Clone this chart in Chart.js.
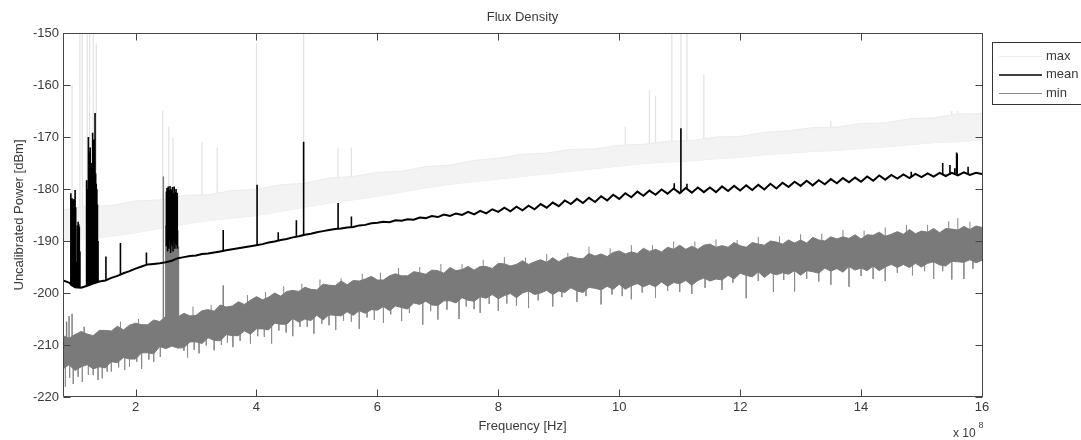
<!DOCTYPE html>
<html>
<head>
<meta charset="utf-8">
<title>Flux Density</title>
<script src="https://cdn.jsdelivr.net/npm/chart.js@4.4.1/dist/chart.umd.min.js"></script>
<style>
  html, body { margin: 0; padding: 0; background: #fff; }
  #wrap { width: 1081px; height: 440px; position: relative; }
</style>
</head>
<body>
<div id="wrap"><canvas id="fluxChart"></canvas></div>
<script>
// axis ticks (frequency in units of 1e8 Hz)
var xTicks = [2, 4, 6, 8, 10, 12, 14, 16];
var yTicks = [-220, -210, -200, -190, -180, -170, -160, -150];
var seriesNames = ['max', 'mean', 'min'];

// shared frequency grid for mean / min traces
var freq = [
    0.8, 0.9, 1.0, 1.1, 1.2, 1.3, 1.4, 1.5, 1.6, 1.7,
    1.8, 1.9, 2.0, 2.1, 2.2, 2.3, 2.4, 2.5, 2.6, 2.7,
    2.8, 2.9, 3.0, 3.1, 3.2, 3.3, 3.4, 3.5, 3.6, 3.7,
    3.8, 3.9, 4.0, 4.1, 4.2, 4.3, 4.4, 4.5, 4.6, 4.7,
    4.8, 4.9, 5.0, 5.1, 5.2, 5.3, 5.4, 5.5, 5.6, 5.7,
    5.8, 5.9, 6.0, 6.1, 6.2, 6.3, 6.4, 6.5, 6.6, 6.7,
    6.8, 6.9, 7.0, 7.1, 7.2, 7.3, 7.4, 7.5, 7.6, 7.7,
    7.8, 7.9, 8.0, 8.1, 8.2, 8.3, 8.4, 8.5, 8.6, 8.7,
    8.8, 8.9, 9.0, 9.1, 9.2, 9.3, 9.4, 9.5, 9.6, 9.7,
    9.8, 9.9, 10.0, 10.1, 10.2, 10.3, 10.4, 10.5, 10.6, 10.7,
    10.8, 10.9, 11.0, 11.1, 11.2, 11.3, 11.4, 11.5, 11.6, 11.7,
    11.8, 11.9, 12.0, 12.1, 12.2, 12.3, 12.4, 12.5, 12.6, 12.7,
    12.8, 12.9, 13.0, 13.1, 13.2, 13.3, 13.4, 13.5, 13.6, 13.7,
    13.8, 13.9, 14.0, 14.1, 14.2, 14.3, 14.4, 14.5, 14.6, 14.7,
    14.8, 14.9, 15.0, 15.1, 15.2, 15.3, 15.4, 15.5, 15.6, 15.7,
    15.8, 15.9, 16.0
];

var meanPower = [
    -197.6, -198.0, -198.9, -199.0, -198.6, -198.2, -197.8, -197.6, -197.1, -196.7,
    -196.2, -195.8, -195.3, -194.9, -194.5, -194.4, -194.3, -194.1, -193.8, -193.3,
    -193.1, -192.9, -192.8, -192.5, -192.4, -192.2, -192.0, -191.8, -191.6, -191.4,
    -191.2, -191.0, -190.8, -190.6, -190.3, -190.1, -189.8, -189.6, -189.3, -189.1,
    -188.8, -188.6, -188.3, -188.1, -187.9, -187.7, -187.6, -187.4, -187.3, -187.0,
    -186.9, -186.6, -186.5, -186.3, -186.4, -186.0, -186.1, -185.8, -185.9, -185.5,
    -185.6, -185.2, -185.4, -184.9, -185.2, -184.7, -185.0, -184.4, -184.9, -184.2,
    -184.7, -183.9, -184.4, -183.6, -184.3, -183.4, -184.1, -183.2, -183.9, -182.9,
    -183.6, -182.6, -183.3, -182.2, -182.9, -181.9, -182.7, -181.7, -182.5, -181.4,
    -182.2, -181.1, -181.9, -180.8, -181.6, -180.5, -181.3, -180.3, -181.1, -180.1,
    -180.9, -179.9, -180.8, -179.8, -180.7, -179.7, -180.6, -179.7, -180.6, -179.5,
    -180.4, -179.4, -180.3, -179.3, -180.2, -179.2, -180.1, -179.0, -179.9, -178.8,
    -179.6, -178.6, -179.4, -178.4, -179.3, -178.3, -179.1, -178.1, -178.9, -177.9,
    -178.7, -177.8, -178.6, -177.6, -178.4, -177.4, -178.2, -177.3, -178.0, -177.2,
    -177.9, -177.1, -177.7, -177.0, -177.6, -176.9, -177.5, -176.9, -177.4, -176.8,
    -177.3, -176.9, -177.1
];

// min trace: upper and lower edge of the noisy band
var minHigh = [
    -208.2, -208.7, -208.0, -207.4, -207.9, -208.2, -207.2, -207.2, -207.3, -206.4,
    -207.1, -206.2, -205.8, -206.1, -206.1, -205.2, -205.5, -204.5, -205.1, -204.6,
    -203.9, -204.4, -204.3, -203.4, -203.2, -203.5, -202.3, -202.7, -202.5, -201.7,
    -202.2, -201.4, -200.7, -201.3, -200.8, -200.0, -200.6, -199.7, -199.5, -199.7,
    -198.9, -199.3, -199.4, -198.3, -198.5, -198.6, -197.7, -198.4, -197.6, -197.7,
    -197.3, -196.8, -197.5, -197.5, -196.7, -196.3, -196.7, -196.7, -195.9, -196.1,
    -196.4, -195.6, -195.7, -196.2, -195.1, -195.7, -195.5, -194.9, -195.6, -194.9,
    -194.9, -195.3, -194.3, -194.4, -194.8, -194.5, -193.8, -194.5, -194.0, -193.6,
    -194.1, -193.2, -194.0, -193.3, -193.0, -193.3, -193.4, -192.4, -192.9, -192.5,
    -193.0, -192.2, -191.9, -192.5, -192.1, -192.4, -191.4, -192.0, -191.6, -192.1,
    -191.2, -191.6, -190.8, -191.6, -191.0, -191.6, -190.8, -190.6, -191.2, -190.9,
    -191.2, -190.3, -190.9, -191.2, -190.3, -190.6, -190.8, -190.0, -190.2, -190.6,
    -189.8, -190.4, -189.8, -190.4, -189.3, -189.8, -190.0, -189.2, -189.6, -189.2,
    -189.5, -188.8, -189.6, -188.8, -188.9, -188.3, -189.1, -188.7, -188.2, -188.7,
    -187.8, -188.6, -188.1, -188.3, -187.6, -188.4, -187.6, -187.7, -187.9, -187.2,
    -187.8, -187.1, -187.4
];

var minLow = [
    -214.6, -213.8, -214.9, -214.2, -213.8, -214.6, -214.2, -214.4, -213.2, -213.4,
    -212.4, -212.7, -212.7, -211.5, -211.5, -211.7, -210.3, -210.7, -210.2, -210.6,
    -210.5, -209.4, -209.4, -209.7, -208.6, -209.1, -209.2, -208.0, -208.2, -208.2,
    -207.3, -207.9, -206.9, -206.9, -207.1, -205.8, -206.0, -206.0, -204.9, -205.6,
    -205.0, -205.3, -204.3, -205.2, -204.2, -204.3, -204.4, -203.6, -204.3, -203.4,
    -203.9, -203.2, -203.3, -202.6, -203.4, -202.5, -202.8, -203.1, -201.9, -202.2,
    -201.6, -202.3, -202.4, -201.5, -201.5, -201.9, -200.9, -201.4, -201.6, -200.7,
    -201.0, -200.3, -201.1, -200.5, -200.1, -200.9, -200.0, -199.6, -200.3, -200.0,
    -199.5, -200.3, -199.6, -199.9, -199.0, -199.6, -199.9, -198.9, -199.1, -199.4,
    -198.7, -199.3, -198.3, -199.3, -198.6, -198.2, -198.8, -198.3, -198.8, -197.9,
    -198.7, -198.0, -198.2, -197.6, -198.5, -197.6, -197.1, -197.7, -197.3, -197.5,
    -196.6, -197.3, -196.2, -196.6, -196.9, -195.9, -197.0, -196.1, -196.5, -196.1,
    -196.4, -195.7, -196.6, -195.7, -195.9, -196.2, -195.2, -195.8, -195.3, -196.0,
    -194.9, -195.6, -195.2, -195.7, -194.8, -195.7, -195.0, -194.5, -195.1, -194.5,
    -195.1, -194.3, -195.0, -194.3, -194.0, -194.6, -194.8, -193.9, -194.0, -194.1,
    -193.6, -194.2, -193.7
];

// max trace: faint band on a coarser grid
var maxFreq = [
    0.8, 1.2, 1.6, 2.0, 2.4, 2.8, 3.2, 3.6, 4.0, 4.4,
    4.8, 5.2, 5.6, 6.0, 6.4, 6.8, 7.2, 7.6, 8.0, 8.4,
    8.8, 9.2, 9.6, 10.0, 10.4, 10.8, 11.2, 11.6, 12.0, 12.4,
    12.8, 13.2, 13.6, 14.0, 14.4, 14.8, 15.2, 15.6, 16.0
];
var maxHigh = [
    -184.0, -183.3, -183.2, -182.3, -182.1, -181.2, -181.1, -180.3, -180.1, -179.2,
    -178.9, -177.9, -177.6, -176.8, -176.6, -175.7, -175.4, -174.5, -174.1, -173.3,
    -173.1, -172.4, -172.3, -171.6, -171.4, -170.8, -170.7, -170.0, -169.9, -169.1,
    -168.8, -168.2, -168.1, -167.4, -167.3, -166.5, -166.3, -165.6, -165.5
];
var maxLow = [
    -190.0, -189.6, -189.1, -188.4, -187.6, -186.8, -186.1, -185.6, -185.1, -184.3,
    -183.5, -182.7, -182.1, -181.4, -180.6, -179.8, -179.1, -178.6, -178.1, -177.6,
    -177.1, -176.6, -176.1, -175.6, -175.1, -174.8, -174.6, -174.2, -173.9, -173.4,
    -173.1, -172.8, -172.6, -172.2, -171.9, -171.5, -171.1, -170.9, -170.6
];

// narrow-band spikes (frequency, peak, foot)
var meanSpikeFreq = [
    0.93, 0.94, 0.95, 0.96, 0.97, 0.98, 0.99, 1.00, 1.01, 1.02, 1.04, 1.05, 1.06, 1.07, 1.08,
    1.19, 1.20, 1.21, 1.22, 1.23, 1.24, 1.25, 1.26, 1.27, 1.28, 1.29, 1.30, 1.31, 1.32, 1.33, 1.34, 1.35, 1.36, 1.37, 1.38,
    1.51, 1.75, 2.18,
    2.51, 2.52, 2.53, 2.54, 2.55, 2.56, 2.57, 2.58, 2.59, 2.60, 2.61, 2.62, 2.63, 2.64, 2.65, 2.66, 2.67, 2.68, 2.69,
    3.45, 4.01, 4.36, 4.66, 4.78, 5.35, 5.57, 10.91, 11.02, 11.12, 14.83, 15.35, 15.47, 15.55, 15.58, 15.59, 15.77
];
var meanSpikeTop = [
    -180.8, -182.5, -181.8, -182.2, -182.6, -181.9, -182.3, -180.2, -183.5, -194.0, -187.0, -186.3, -186.8, -187.2, -192.0,
    -178.3, -184.0, -180.0, -170.0, -173.0, -176.0, -172.0, -178.0, -175.0, -181.0, -169.2, -176.0, -170.5, -174.0, -165.4, -177.0, -179.0, -180.0, -183.0, -190.0,
    -193.0, -190.4, -192.2,
    -180.5, -179.8, -181.0, -179.5, -180.2, -181.2, -179.4, -180.0, -181.5, -180.3, -179.6, -180.8, -181.3, -179.5, -180.6, -181.0, -180.0, -181.4, -180.7,
    -187.9, -179.2, -188.3, -186.0, -170.9, -182.7, -185.3, -178.9, -168.3, -179.0, -176.7, -175.0, -175.4, -176.0, -173.0, -173.2, -175.7
];
var meanSpikeBase = [
    -198.5, -198.6, -198.7, -198.8, -198.8, -198.9, -198.9, -199.0, -199.0, -199.0, -199.0, -199.0, -199.0, -199.0, -199.0,
    -198.6, -198.6, -198.5, -198.5, -198.4, -198.4, -198.3, -198.3, -198.3, -198.2, -198.2, -198.2, -198.1, -198.1, -198.1, -198.0, -198.0, -198.0, -197.9, -197.9,
    -197.5, -196.6, -194.6,
    -191.0, -190.0, -192.0, -189.0, -191.5, -190.0, -188.5, -192.3, -190.5, -189.0, -191.0, -192.0, -190.0, -189.5, -191.5, -190.5, -189.0, -190.8, -191.5,
    -191.9, -190.8, -189.9, -189.2, -188.9, -187.7, -187.4, -180.0, -180.8, -180.0, -177.7, -177.3, -177.3, -177.2, -177.3, -177.3, -177.1
];

var minSpikeFreq = [
    0.86, 0.90, 0.95, 1.15, 2.46,
    2.50, 2.51, 2.52, 2.53, 2.54, 2.55, 2.56, 2.57, 2.58, 2.59, 2.60,
    2.61, 2.62, 2.63, 2.64, 2.65, 2.66, 2.67, 2.68, 2.69, 2.70, 2.71,
    3.45
];
var minSpikeTop = [
    -205.5, -204.4, -204.0, -206.5, -177.6,
    -187.0, -187.0, -187.0, -187.0, -187.0, -187.0, -187.0, -187.0, -187.0, -187.0, -187.0,
    -187.0, -187.0, -187.0, -187.0, -187.0, -187.0, -187.0, -187.0, -187.0, -188.0, -191.0,
    -198.5
];
var minSpikeBase = [
    -210.0, -210.0, -210.0, -209.0, -205.0,
    -205.5, -205.5, -205.5, -205.5, -205.5, -205.5, -205.5, -205.5, -205.5, -205.5, -205.5,
    -205.5, -205.5, -205.5, -205.5, -205.5, -205.5, -205.5, -205.5, -205.5, -205.5, -205.5,
    -203.0
];

// downward noise dips of the min trace
var minDipFreq = [
    0.84, 0.91, 0.97, 1.05, 1.12, 1.22, 1.30, 1.38, 1.45, 1.53,
    1.60, 1.72, 1.82, 1.90, 2.02, 2.10, 2.22, 2.30, 2.41, 2.80,
    2.86, 2.97, 3.05, 3.17, 3.30, 3.42, 3.52, 3.61, 3.73, 3.90,
    4.02, 4.13, 4.25, 4.37, 4.49, 4.60, 4.72, 4.84, 4.95, 5.08,
    5.20, 5.31, 5.44, 5.57, 5.70, 5.83, 5.95, 6.10, 6.22, 6.40,
    6.53, 6.75, 6.88, 7.00, 7.15, 7.35, 7.47, 7.60, 7.70, 7.85,
    8.00, 8.14, 8.30, 8.50, 8.66, 8.90, 9.05, 9.30, 9.45, 9.70,
    9.88, 10.05, 10.20, 10.38, 10.60, 10.80, 11.00, 11.20, 11.42, 11.70,
    11.88, 12.10, 12.30, 12.55, 12.72, 12.90, 13.10, 13.30, 13.50, 13.80,
    14.00, 14.20, 14.40, 14.60, 14.85, 15.05, 15.20, 15.35, 15.50, 15.70,
    15.85
];
var minDipLow = [
    -218.0, -216.3, -217.5, -216.1, -217.1, -215.7, -215.8, -216.7, -216.4, -215.1,
    -215.1, -214.3, -214.8, -214.2, -213.2, -214.6, -212.8, -213.2, -212.3, -211.1,
    -212.4, -210.9, -211.6, -210.1, -211.0, -210.0, -209.5, -210.4, -209.2, -209.7,
    -208.3, -208.4, -209.7, -207.2, -207.6, -208.3, -206.5, -206.5, -207.8, -205.9,
    -206.2, -207.1, -205.3, -205.5, -206.9, -204.7, -205.2, -205.7, -204.1, -205.4,
    -203.8, -206.1, -203.5, -205.1, -203.2, -205.0, -202.6, -203.1, -203.8, -202.1,
    -203.4, -202.0, -202.5, -202.9, -201.4, -202.6, -200.8, -201.7, -200.6, -202.2,
    -200.3, -200.6, -201.2, -199.9, -200.9, -199.6, -199.8, -200.2, -199.0, -199.4,
    -198.0, -201.0, -197.7, -199.8, -197.5, -199.7, -197.3, -197.8, -198.4, -198.8,
    -196.7, -197.3, -197.7, -196.1, -196.6, -195.8, -197.3, -195.8, -197.4, -197.3,
    -195.3
];
var minDipBase = [
    -211.8, -211.8, -211.8, -211.8, -211.8, -211.7, -211.7, -211.7, -211.5, -211.3,
    -211.0, -210.6, -210.3, -210.0, -209.6, -209.3, -208.9, -208.6, -208.3, -207.4,
    -207.3, -207.1, -206.9, -206.6, -206.3, -206.1, -205.9, -205.7, -205.4, -204.9,
    -204.6, -204.2, -203.9, -203.5, -203.2, -202.9, -202.7, -202.5, -202.3, -202.1,
    -201.9, -201.8, -201.6, -201.4, -201.2, -201.0, -200.8, -200.6, -200.4, -200.1,
    -199.9, -199.6, -199.5, -199.3, -199.1, -198.9, -198.8, -198.6, -198.5, -198.3,
    -198.1, -198.0, -197.8, -197.6, -197.5, -197.3, -197.1, -196.9, -196.8, -196.6,
    -196.4, -196.3, -196.1, -196.0, -195.8, -195.6, -195.5, -195.4, -195.1, -194.6,
    -194.3, -194.0, -193.9, -193.8, -193.7, -193.6, -193.4, -193.3, -193.1, -192.9,
    -192.8, -192.6, -192.5, -192.3, -192.1, -192.0, -191.9, -191.7, -191.6, -191.5,
    -191.3
];

// upward noise burrs of the min trace
var minBurrFreq = [
    1.75, 2.05, 2.95, 3.25, 3.85, 4.15, 4.45, 4.75, 5.05, 5.40,
    5.75, 6.05, 6.35, 6.70, 7.05, 7.40, 7.75, 8.10, 8.45, 8.80,
    9.15, 9.50, 9.85, 10.20, 10.55, 10.90, 11.25, 11.60, 11.95, 12.30,
    12.65, 13.00, 13.35, 13.70, 14.05, 14.40, 14.75, 15.10, 15.45, 15.60,
    15.80
];
var minBurrTop = [
    -205.5, -205.0, -202.6, -202.3, -200.4, -199.8, -198.7, -198.2, -197.4, -197.2,
    -196.3, -196.1, -195.2, -195.0, -194.4, -194.4, -193.6, -193.1, -193.2, -192.5,
    -192.3, -191.1, -191.4, -190.8, -190.8, -190.1, -190.1, -189.7, -189.8, -189.2,
    -189.1, -188.7, -188.6, -187.9, -188.0, -187.4, -186.9, -186.9, -186.2, -185.6,
    -186.3
];
var minBurrBase = [
    -208.2, -207.5, -205.4, -204.7, -203.1, -202.3, -201.5, -200.8, -200.3, -199.7,
    -199.1, -198.6, -198.1, -197.6, -197.2, -196.9, -196.5, -196.1, -195.7, -195.3,
    -194.8, -194.4, -194.0, -193.6, -193.3, -193.0, -192.7, -192.4, -192.3, -192.1,
    -191.8, -191.5, -191.2, -190.8, -190.5, -190.2, -189.9, -189.6, -189.3, -189.1,
    -188.9
];

var maxSpikeFreq = [
    0.95, 1.08, 1.12, 1.20, 1.24, 1.30, 1.35, 2.45, 2.55, 2.62,
    3.10, 3.35, 4.00, 4.78, 5.35, 5.57, 10.10, 10.50, 10.60, 10.87,
    11.02, 11.12, 11.40, 13.50, 15.50, 15.60
];
var maxSpikeTop = [
    -160, -150, -150, -150, -150, -150, -152, -165, -168, -170,
    -171, -172, -152, -150, -172, -172, -168, -161, -162, -150,
    -150, -150, -158, -167, -165, -165
];
var maxSpikeBase = [
    -189.8, -189.5, -189.4, -189.4, -189.3, -189.3, -189.2, -187.5, -187.3, -187.2,
    -186.2, -185.9, -185.1, -183.5, -182.5, -182.1, -175.5, -175.0, -174.9, -174.8,
    -174.7, -174.6, -174.4, -172.6, -171.0, -170.9
];

(function () {
    var canvas = document.getElementById('fluxChart');
    if (!canvas || typeof Chart === 'undefined') {
        return;
    }

    var font = 'Liberation Sans, Arial, Helvetica, sans-serif';
    var text = '#3a3a3a';
    var minColor = '#7a7a7a';
    var maxColor = '#ebebeb';

    Chart.defaults.font.family = font;
    Chart.defaults.font.size = 13;
    Chart.defaults.color = text;

    function pairs(xs, ys) {
        return xs.map(function (v, i) { return { x: v, y: ys[i] }; });
    }
    function sticks(xs, tops, bases) {
        var out = [];
        xs.forEach(function (v, i) {
            out.push({ x: v, y: bases[i] }, { x: v, y: tops[i] }, { x: v, y: null });
        });
        return out;
    }

    // box, inward ticks, legend and exponent label, MATLAB style
    var framePlugin = {
        id: 'frame',
        afterDatasetsDraw: function (chart) {
            var ctx = chart.ctx, a = chart.chartArea;
            var sx = chart.scales.x, sy = chart.scales.y;
            var l = Math.round(a.left) + 0.5, r = Math.round(a.right) + 0.5;
            var t = Math.round(a.top) + 0.5, b = Math.round(a.bottom) - 0.5;
            ctx.save();
            ctx.strokeStyle = '#454545';
            ctx.lineWidth = 1;
            ctx.beginPath();
            ctx.rect(l, t, r - l, b - t);
            xTicks.forEach(function (v) {
                var px = Math.round(sx.getPixelForValue(v)) + 0.5;
                ctx.moveTo(px, b); ctx.lineTo(px, b - 7);
                ctx.moveTo(px, t); ctx.lineTo(px, t + 7);
            });
            yTicks.forEach(function (v) {
                var py = Math.round(sy.getPixelForValue(v)) + 0.5;
                ctx.moveTo(l, py); ctx.lineTo(l + 7, py);
                ctx.moveTo(r, py); ctx.lineTo(r - 7, py);
            });
            ctx.stroke();

            // exponent of the x axis
            ctx.fillStyle = text;
            ctx.textBaseline = 'alphabetic';
            ctx.textAlign = 'left';
            ctx.font = '12px ' + font;
            ctx.fillText('x 10', 953, 437);
            ctx.font = '9px ' + font;
            ctx.fillText('8', 978.5, 428);

            // legend box
            var rows = [
                { name: seriesNames[0], color: '#ececec', width: 1 },
                { name: seriesNames[1], color: '#000000', width: 1.5 },
                { name: seriesNames[2], color: '#8a8a8a', width: 1 }
            ];
            ctx.fillStyle = '#ffffff';
            ctx.fillRect(992.5, 42.5, 100, 62);
            ctx.strokeStyle = '#333333';
            ctx.lineWidth = 1;
            ctx.strokeRect(992.5, 42.5, 100, 62);
            ctx.font = '13px ' + font;
            ctx.textBaseline = 'middle';
            rows.forEach(function (row, i) {
                var y = 56 + i * 18.5;
                ctx.strokeStyle = row.color;
                ctx.lineWidth = row.width;
                ctx.beginPath();
                ctx.moveTo(999, y + 0.5);
                ctx.lineTo(1042, y + 0.5);
                ctx.stroke();
                ctx.fillStyle = text;
                ctx.fillText(row.name, 1046, y);
            });
            ctx.restore();
        }
    };

    new Chart(canvas, {
        type: 'line',
        data: {
            datasets: [
                { label: 'mean', data: pairs(freq, meanPower), borderColor: '#000000', borderWidth: 2, order: 1 },
                { label: 'mean spikes', data: sticks(meanSpikeFreq, meanSpikeTop, meanSpikeBase), borderColor: '#000000', borderWidth: 1.6, order: 0 },
                { label: 'min', data: pairs(freq, minHigh), borderColor: minColor, backgroundColor: minColor, borderWidth: 1, fill: '+1', order: 3 },
                { label: 'min low', data: pairs(freq, minLow), borderColor: minColor, borderWidth: 1, order: 3 },
                { label: 'min spikes', data: sticks(minSpikeFreq, minSpikeTop, minSpikeBase), borderColor: minColor, borderWidth: 1.4, order: 2 },
                { label: 'min dips', data: sticks(minDipFreq, minDipLow, minDipBase), borderColor: '#8e8e8e', borderWidth: 1, order: 4 },
                { label: 'min burrs', data: sticks(minBurrFreq, minBurrTop, minBurrBase), borderColor: '#858585', borderWidth: 1, order: 4 },
                { label: 'max', data: pairs(maxFreq, maxHigh), borderColor: maxColor, backgroundColor: '#f3f3f3', borderWidth: 1, fill: '+1', order: 6 },
                { label: 'max low', data: pairs(maxFreq, maxLow), borderColor: maxColor, borderWidth: 1, order: 6 },
                { label: 'max spikes', data: sticks(maxSpikeFreq, maxSpikeTop, maxSpikeBase), borderColor: '#e2e2e2', borderWidth: 1.2, order: 7 }
            ]
        },
        options: {
            responsive: true,
            maintainAspectRatio: false,
            animation: false,
            events: [],
            layout: { padding: { left: 0, right: 99, top: 0, bottom: 0 } },
            elements: {
                point: { radius: 0 },
                line: { tension: 0, fill: false }
            },
            plugins: {
                legend: { display: false },
                tooltip: { enabled: false },
                title: {
                    display: true,
                    text: 'Flux Density',
                    fullSize: false,
                    color: text,
                    font: { size: 13, weight: 'normal' },
                    padding: { top: 10, bottom: 7.4 }
                }
            },
            scales: {
                x: {
                    type: 'linear',
                    min: 0.8,
                    max: 16,
                    afterBuildTicks: function (scale) {
                        scale.ticks = xTicks.map(function (v) { return { value: v }; });
                    },
                    afterFit: function (scale) { scale.height = 43; },
                    ticks: { color: text, padding: 3, maxRotation: 0, autoSkip: false, font: { size: 13 } },
                    grid: { display: false, drawTicks: false },
                    border: { display: false },
                    title: { display: true, text: 'Frequency [Hz]', color: text, font: { size: 13 }, padding: { top: 0, bottom: 6 } }
                },
                y: {
                    type: 'linear',
                    min: -220,
                    max: -150,
                    afterBuildTicks: function (scale) {
                        scale.ticks = yTicks.map(function (v) { return { value: v }; });
                    },
                    afterFit: function (scale) { scale.width = 63; },
                    ticks: { color: text, padding: 4, autoSkip: false, font: { size: 13 } },
                    grid: { display: false, drawTicks: false },
                    border: { display: false },
                    title: { display: true, text: 'Uncalibrated Power [dBm]', color: text, font: { size: 13 }, padding: { top: 12, bottom: 0 } }
                }
            }
        },
        plugins: [framePlugin]
    });
})();
</script>
</body>
</html>
